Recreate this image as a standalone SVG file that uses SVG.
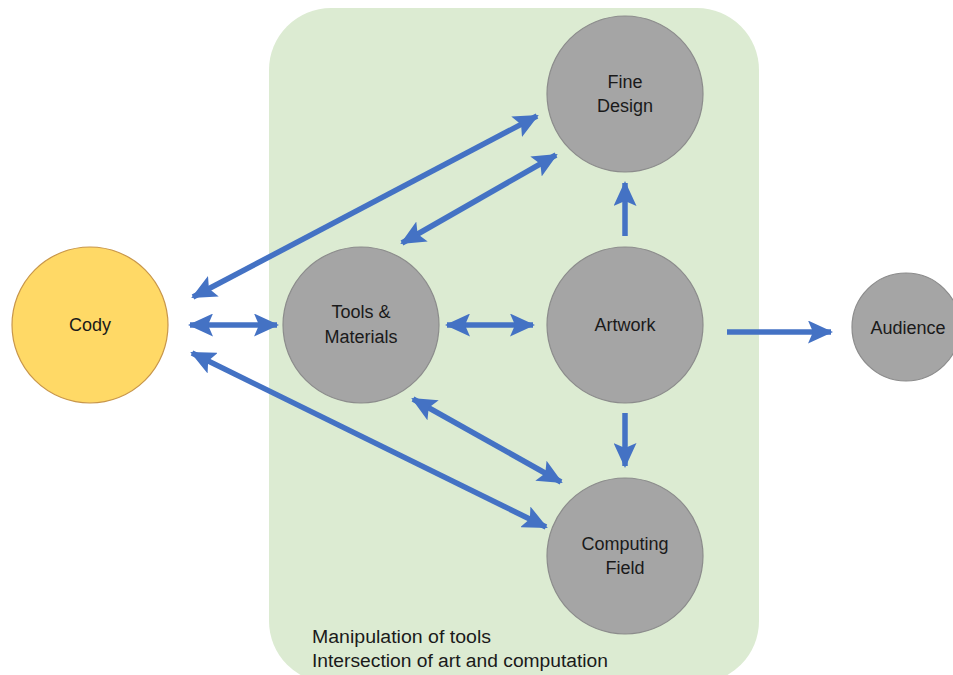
<svg xmlns="http://www.w3.org/2000/svg" width="953" height="675" viewBox="0 0 953 675">
<style>
.lbl{font-family:"Liberation Sans",Arial,sans-serif;font-size:18px;fill:#1a1a1a;text-anchor:middle;dominant-baseline:central}
.note{font-family:"Liberation Sans",Arial,sans-serif;font-size:18px;fill:#1a1a1a;dominant-baseline:central}
.gray{fill:#A5A5A5;stroke:#8C8C8C;stroke-width:1.2}
.conn{stroke:#4472C4;stroke-width:5.5;fill:none}
</style>
<defs>
<marker id="ah" markerUnits="userSpaceOnUse" markerWidth="25" markerHeight="23" viewBox="0 0 25 23" refX="23" refY="11.5" orient="auto-start-reverse">
<path d="M0,0 L25,11.5 L0,23 L5,11.5 Z" fill="#4472C4"/>
</marker>
</defs>
<rect x="0" y="0" width="953" height="675" fill="#ffffff"/>
<g id="region">
<rect x="269" y="8" width="490" height="675" rx="62" ry="62" fill="#DCEBD2"/>
<text class="note" x="312" y="637" textLength="179" lengthAdjust="spacingAndGlyphs">Manipulation of tools</text>
<text class="note" x="312" y="661" textLength="296" lengthAdjust="spacingAndGlyphs">Intersection of art and computation</text>
</g>
<g id="connectors">
<line class="conn" x1="193" y1="297" x2="537" y2="116" marker-start="url(#ah)" marker-end="url(#ah)"/>
<line class="conn" x1="402" y1="243" x2="556" y2="155" marker-start="url(#ah)" marker-end="url(#ah)"/>
<line class="conn" x1="190" y1="325" x2="277" y2="325" marker-start="url(#ah)" marker-end="url(#ah)"/>
<line class="conn" x1="447" y1="325" x2="533" y2="325" marker-start="url(#ah)" marker-end="url(#ah)"/>
<line class="conn" x1="192" y1="353" x2="546" y2="527" marker-start="url(#ah)" marker-end="url(#ah)"/>
<line class="conn" x1="413" y1="399" x2="561" y2="482" marker-start="url(#ah)" marker-end="url(#ah)"/>
<line class="conn" x1="625" y1="236" x2="625" y2="183" marker-end="url(#ah)"/>
<line class="conn" x1="625" y1="413" x2="625" y2="466" marker-end="url(#ah)"/>
<line class="conn" x1="727" y1="332" x2="831" y2="332" marker-end="url(#ah)"/>
</g>
<g id="cody">
<circle cx="90" cy="325" r="78" fill="#FFD966" stroke="#C8964A" stroke-width="1.2"/>
<text class="lbl" x="90" y="325">Cody</text>
</g>
<g id="tools">
<circle class="gray" cx="361" cy="325" r="78"/>
<text class="lbl" x="361" y="312">Tools &amp;</text>
<text class="lbl" x="361" y="337">Materials</text>
</g>
<g id="artwork">
<circle class="gray" cx="625" cy="325" r="78"/>
<text class="lbl" x="625" y="325">Artwork</text>
</g>
<g id="fine-design">
<circle class="gray" cx="625" cy="94" r="78"/>
<text class="lbl" x="625" y="82">Fine</text>
<text class="lbl" x="625" y="106">Design</text>
</g>
<g id="computing-field">
<circle class="gray" cx="625" cy="556" r="78"/>
<text class="lbl" x="625" y="544">Computing</text>
<text class="lbl" x="625" y="568">Field</text>
</g>
<g id="audience">
<circle class="gray" cx="906" cy="327" r="54"/>
<text class="lbl" x="908" y="328">Audience</text>
</g>
</svg>
